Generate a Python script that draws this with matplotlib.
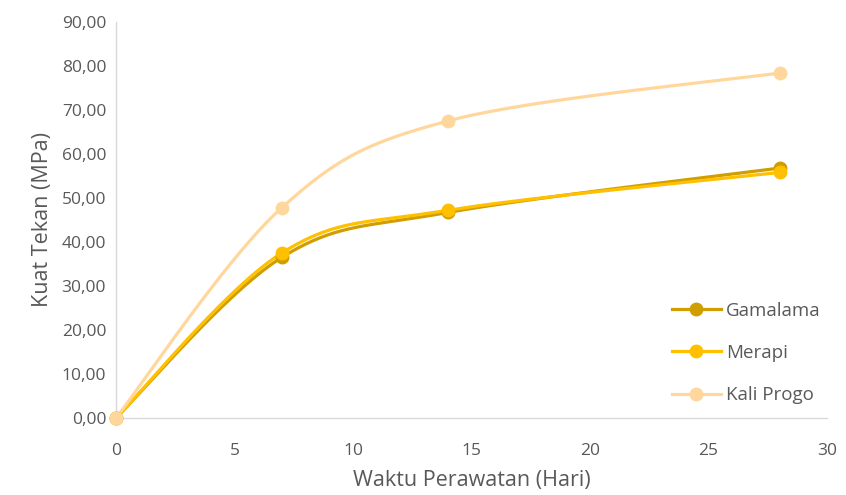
import numpy as np
import matplotlib
matplotlib.use("Agg")
import matplotlib.pyplot as plt
from matplotlib.ticker import FuncFormatter

# Curing time (days) and compressive strength (MPa)
days = [0, 7, 14, 28]
gamalama = [0.0, 36.5, 46.7, 56.8]
merapi = [0.0, 37.5, 47.2, 55.8]
kali_progo = [0.0, 47.8, 67.5, 78.4]

series_names = ["Gamalama", "Merapi", "Kali Progo"]
series_colors = ["#D09E00", "#FFC000", "#FFD79C"]

x_ticks = [0, 5, 10, 15, 20, 25, 30]
y_ticks = [0, 10, 20, 30, 40, 50, 60, 70, 80, 90]


def smooth_curve(xs, ys, n=60):
    """Cardinal-spline smoothing through the data points (spreadsheet style)."""
    xs = np.asarray(xs, float)
    ys = np.asarray(ys, float)
    pts = np.column_stack([xs, ys])
    out = []
    for i in range(len(pts) - 1):
        p0 = pts[i - 1] if i > 0 else pts[i]
        p1 = pts[i]
        p2 = pts[i + 1]
        p3 = pts[i + 2] if i + 2 < len(pts) else pts[i + 1]
        c1 = p1 + (p2 - p0) / 6.0
        c2 = p2 - (p3 - p1) / 6.0
        t = np.linspace(0, 1, n)[:, None]
        seg = ((1 - t) ** 3) * p1 + 3 * ((1 - t) ** 2) * t * c1 + 3 * (1 - t) * t ** 2 * c2 + t ** 3 * p2
        out.append(seg if i == 0 else seg[1:])
    seg = np.vstack(out)
    return seg[:, 0], seg[:, 1]


plt.rcParams["font.family"] = ["Open Sans", "DejaVu Sans"]
text_color = "#595959"

fig = plt.figure(figsize=(8.46, 4.95), dpi=100)
ax = fig.add_axes([0.137, 0.1556, 0.8405, 0.80])

for name, vals, col in zip(series_names, [gamalama, merapi, kali_progo], series_colors):
    sx, sy = smooth_curve(days, vals)
    ax.plot(sx, sy, color=col, lw=2.3, solid_capstyle="round", zorder=2)
    ax.plot(days, vals, ls="none", marker="o", ms=9, color=col, zorder=3)
    ax.plot([], [], color=col, lw=2.3, marker="o", ms=9, label=name)

ax.set_xlim(0, 30)
ax.set_ylim(0, 90)
ax.set_xticks(x_ticks)
ax.set_yticks(y_ticks)
ax.yaxis.set_major_formatter(FuncFormatter(lambda v, p: f"{v:.2f}".replace(".", ",")))
ax.tick_params(axis="both", length=0, labelsize=12.5, colors=text_color)
ax.tick_params(axis="y", pad=7)
ax.tick_params(axis="x", pad=18)

for s in ["top", "right"]:
    ax.spines[s].set_visible(False)
ax.spines["left"].set_color("#D9D9D9")
ax.spines["bottom"].set_color("#D9D9D9")
ax.spines["left"].set_linewidth(1)
ax.spines["bottom"].set_linewidth(1)

for line in ax.lines:
    line.set_clip_on(False)

ax.set_xlabel("Waktu Perawatan (Hari)", fontsize=15.5, color=text_color, labelpad=8)
ax.set_ylabel("Kuat Tekan (MPa)", fontsize=15.5, color=text_color, labelpad=6)

leg = ax.legend(loc="lower right", bbox_to_anchor=(1.015, -0.008), frameon=False,
                fontsize=13.5, labelcolor=text_color, handlelength=2.6,
                labelspacing=1.3, handletextpad=0.3)

fig.savefig("out.png", dpi=100, facecolor="white")
